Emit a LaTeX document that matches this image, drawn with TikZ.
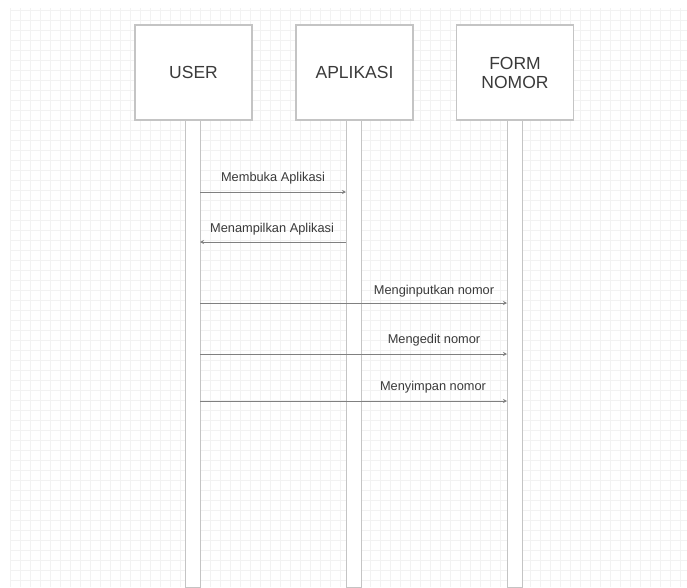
\documentclass[tikz,border=0pt]{standalone}
\usepackage{fontspec}
\setmainfont{Liberation Sans}
\usetikzlibrary{arrows.meta}
\definecolor{boxline}{HTML}{C4C4C4}
\definecolor{gridc}{HTML}{F2F2F2}
\definecolor{msgline}{HTML}{808080}
\definecolor{txt}{HTML}{3A3A3A}
\begin{document}
\begin{tikzpicture}[x=1pt,y=-1pt,
  actor/.style={draw=boxline,line width=1.3pt,fill=white,minimum width=117pt,minimum height=95pt,inner sep=0pt,text=txt,font=\fontsize{17.5}{19}\selectfont,align=center},
  bar/.style={draw=boxline,line width=1pt,fill=white},
  msg/.style={draw=msgline,line width=0.8pt,-{Stealth[length=4pt,width=4pt]}},
  lbl/.style={text=txt,font=\fontsize{12.8}{14}\selectfont,inner sep=1pt}]
\useasboundingbox (0,0) rectangle (687,587);
\fill[white] (0,0) rectangle (687,587);
\draw[gridc,line width=0.4pt,step=10pt] (10,8) grid (687,587);
% lifeline bars
\draw[bar] (185,120) rectangle (200,587);
\draw[bar] (346,120) rectangle (361,587);
\draw[bar] (507,120) rectangle (522,587);
% actors
\node[actor] (user) at (193.5,72.5) {USER};
\node[actor] (app) at (354.5,72.5) {APLIKASI};
\node[actor] (form) at (515,72.5) {FORM\\NOMOR};
% lifeline anchors
\coordinate (u1) at (200,192); \coordinate (a1) at (346,192);
\coordinate (u2) at (200,242); \coordinate (a2) at (346,242);
\coordinate (u3) at (200,303); \coordinate (f3) at (507,303);
\coordinate (u4) at (200,354); \coordinate (f4) at (507,354);
\coordinate (u5) at (200,401); \coordinate (f5) at (507,401);
% messages
\draw[msg] (u1) -- (a1);
\node[lbl] (m1) at (273,178) {Membuka Aplikasi};
\draw[msg] (a2) -- (u2);
\node[lbl] (m2) at (272,229) {Menampilkan Aplikasi};
\draw[msg] (u3) -- (f3);
\node[lbl] (m3) at (434,291) {Menginputkan nomor};
\draw[msg] (u4) -- (f4);
\node[lbl] (m4) at (434,340) {Mengedit nomor};
\draw[msg] (u5) -- (f5);
\node[lbl] (m5) at (433,387) {Menyimpan nomor};
\end{tikzpicture}
\end{document}
